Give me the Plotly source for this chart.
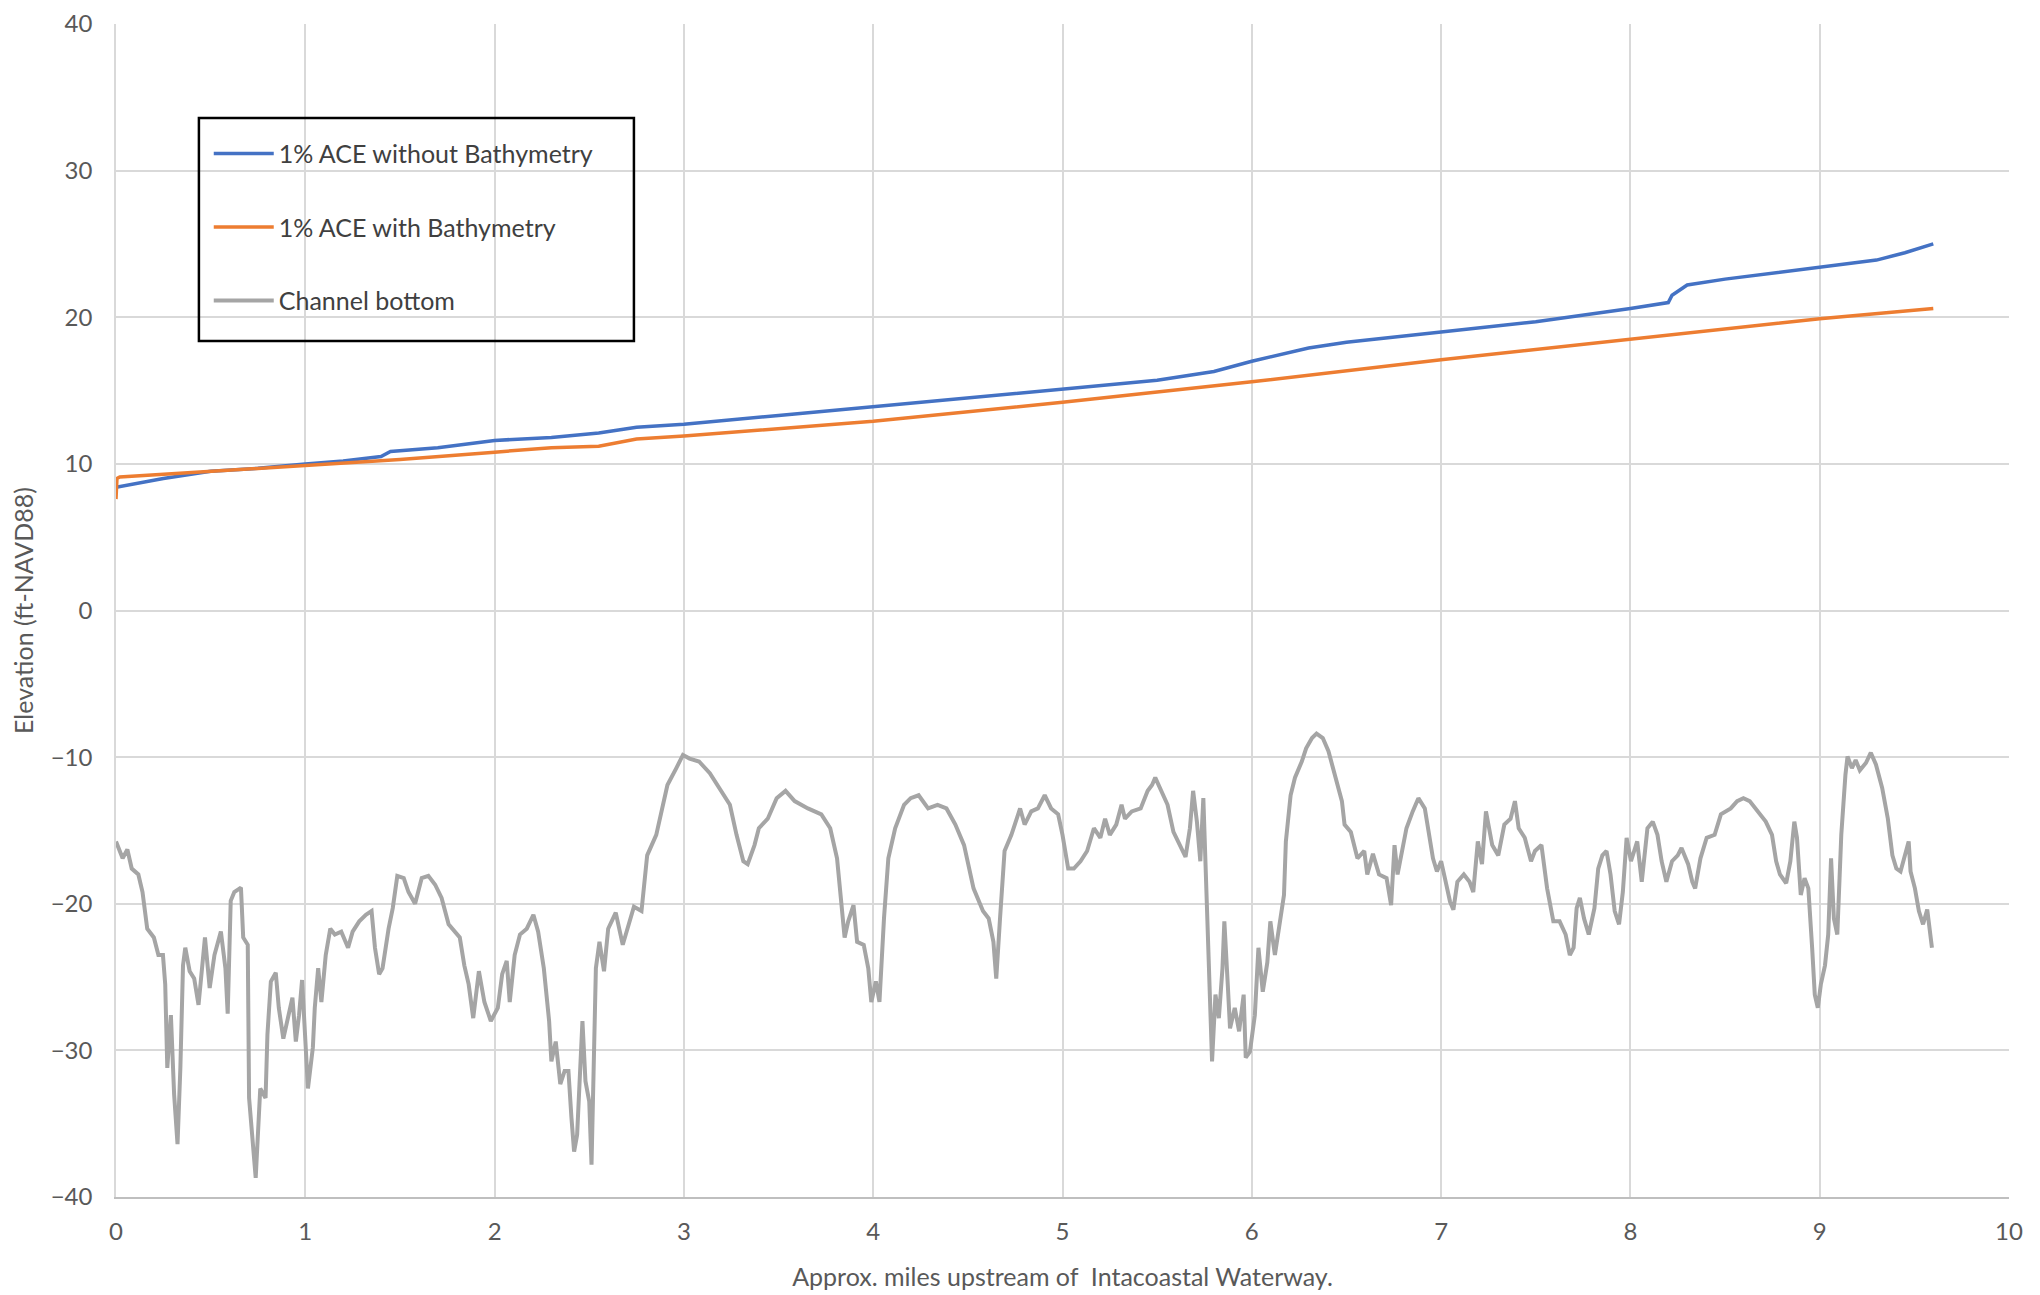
"""
Water-surface profile vs channel bottom along the creek.

Plots the 1% annual-chance-exceedance (ACE) water surface with and without
bathymetry, plus the channel-bottom elevation, against distance upstream.
"""

import plotly.graph_objects as go


# ── Data ─────────────────────────────────────────────────────────────────────
# 1% ACE without bathymetry (blue)
ace_nobathy_miles = [0.0, 0.25, 0.5, 0.75, 1.0, 1.2, 1.4, 1.45, 1.7, 2.0, 2.3,
                     2.55, 2.75, 3.0, 3.5, 4.0, 4.5, 5.0, 5.5, 5.8, 6.0, 6.3,
                     6.5, 7.0, 7.5, 8.0, 8.2, 8.22, 8.3, 8.5, 9.0, 9.3, 9.45,
                     9.6]
ace_nobathy_elev = [8.4, 9.0, 9.5, 9.7, 10.0, 10.2, 10.5, 10.85, 11.1, 11.6,
                    11.8, 12.1, 12.5, 12.7, 13.3, 13.9, 14.5, 15.1, 15.7,
                    16.3, 17.0, 17.9, 18.3, 19.0, 19.7, 20.6, 21.0, 21.5,
                    22.2, 22.6, 23.4, 23.9, 24.4, 25.0]

# 1% ACE with bathymetry (orange)
ace_bathy_miles = [0.0, 0.005, 0.02, 0.5, 1.0, 1.5, 2.0, 2.3, 2.55, 2.75, 3.0,
                   4.0, 5.0, 6.0, 7.0, 8.0, 9.0, 9.6]
ace_bathy_elev = [7.6, 9.0, 9.1, 9.5, 9.9, 10.3, 10.8, 11.1, 11.2, 11.7, 11.9,
                  12.9, 14.2, 15.6, 17.1, 18.5, 19.9, 20.6]

# Channel bottom (gray)
bottom_miles = [
    0.0, 0.035, 0.06, 0.083, 0.118, 0.14, 0.165, 0.2, 0.224, 0.248, 0.26,
    0.271, 0.29, 0.307, 0.325, 0.34, 0.354, 0.366, 0.389, 0.413, 0.436, 0.47,
    0.495, 0.52, 0.554, 0.578, 0.59, 0.606, 0.625, 0.66, 0.672, 0.696, 0.703,
    0.72, 0.738, 0.762, 0.79, 0.80, 0.818, 0.844, 0.86, 0.884, 0.908, 0.932,
    0.95, 0.967, 0.983, 1.0, 1.014, 1.04, 1.05, 1.068, 1.085, 1.108, 1.132,
    1.156, 1.19, 1.226, 1.25, 1.285, 1.32, 1.35, 1.368, 1.39, 1.408, 1.44,
    1.462, 1.486, 1.52, 1.545, 1.58, 1.615, 1.65, 1.686, 1.72, 1.757, 1.79,
    1.816, 1.84, 1.863, 1.887, 1.917, 1.946, 1.98, 2.017, 2.04, 2.064, 2.08,
    2.106, 2.134, 2.17, 2.205, 2.23, 2.26, 2.288, 2.3, 2.323, 2.347, 2.37,
    2.39, 2.406, 2.42, 2.436, 2.448, 2.464, 2.48, 2.5, 2.512, 2.524, 2.535,
    2.554, 2.578, 2.6, 2.64, 2.677, 2.71, 2.736, 2.776, 2.806, 2.854, 2.913,
    2.96, 2.995, 3.03, 3.08, 3.137, 3.196, 3.243, 3.278, 3.314, 3.337, 3.373,
    3.396, 3.443, 3.49, 3.537, 3.585, 3.655, 3.726, 3.773, 3.809, 3.832,
    3.849, 3.868, 3.896, 3.915, 3.95, 3.974, 3.99, 4.014, 4.033, 4.057, 4.08,
    4.116, 4.163, 4.198, 4.24, 4.29, 4.34, 4.387, 4.434, 4.48, 4.53, 4.58,
    4.61, 4.635, 4.65, 4.67, 4.694, 4.73, 4.765, 4.776, 4.8, 4.835, 4.87,
    4.906, 4.94, 4.977, 5.0, 5.03, 5.06, 5.095, 5.13, 5.166, 5.2, 5.225,
    5.25, 5.284, 5.312, 5.33, 5.366, 5.413, 5.45, 5.473, 5.49, 5.52, 5.555,
    5.586, 5.62, 5.65, 5.673, 5.69, 5.71, 5.728, 5.744, 5.756, 5.768, 5.78,
    5.79, 5.808, 5.826, 5.845, 5.855, 5.873, 5.885, 5.91, 5.933, 5.957,
    5.968, 5.99, 6.016, 6.035, 6.058, 6.082, 6.098, 6.122, 6.145, 6.17, 6.18,
    6.205, 6.228, 6.264, 6.287, 6.318, 6.342, 6.375, 6.405, 6.44, 6.476,
    6.49, 6.523, 6.558, 6.594, 6.61, 6.64, 6.672, 6.712, 6.736, 6.754, 6.77,
    6.817, 6.85, 6.88, 6.914, 6.935, 6.957, 6.978, 7.0, 7.02, 7.047, 7.065,
    7.086, 7.12, 7.15, 7.17, 7.194, 7.216, 7.237, 7.27, 7.302, 7.334, 7.367,
    7.39, 7.41, 7.442, 7.475, 7.496, 7.53, 7.56, 7.593, 7.626, 7.658, 7.68,
    7.7, 7.716, 7.733, 7.755, 7.78, 7.81, 7.83, 7.852, 7.874, 7.895, 7.917,
    7.94, 7.96, 7.98, 8.003, 8.036, 8.06, 8.09, 8.118, 8.143, 8.165, 8.19,
    8.22, 8.25, 8.27, 8.305, 8.327, 8.342, 8.37, 8.403, 8.445, 8.478, 8.5,
    8.53, 8.564, 8.597, 8.63, 8.672, 8.715, 8.748, 8.77, 8.79, 8.823, 8.845,
    8.866, 8.88, 8.9, 8.92, 8.94, 8.96, 8.974, 8.99, 9.006, 9.028, 9.045,
    9.06, 9.075, 9.093, 9.104, 9.114, 9.136, 9.147, 9.17, 9.19, 9.212,
    9.244, 9.27, 9.297, 9.33, 9.36, 9.384, 9.405, 9.427, 9.448, 9.47, 9.48,
    9.503, 9.524, 9.546, 9.568, 9.59, 9.593,
]
bottom_elev = [
    -15.75, -16.9, -16.3, -17.6, -18.0, -19.2, -21.7, -22.3, -23.5, -23.5,
    -25.5, -31.2, -27.6, -33.0, -36.4, -31.2, -24.2, -23.0, -24.6, -25.1,
    -26.9, -22.3, -25.75, -23.5, -21.9, -24.4, -27.5, -19.8, -19.2, -18.9,
    -22.3, -22.8, -33.25, -35.75, -38.7, -32.6, -33.25, -28.9, -25.3, -24.7,
    -27.1, -29.2, -27.8, -26.4, -29.4, -27.6, -25.2, -28.9, -32.6, -29.8,
    -27.1, -24.4, -26.7, -23.5, -21.7, -22.1, -21.9, -23.0, -21.9, -21.2,
    -20.75, -20.5, -23.0, -24.8, -24.4, -21.7, -20.3, -18.1, -18.25, -19.2,
    -20.0, -18.25, -18.1, -18.7, -19.6, -21.4, -21.9, -22.3, -24.2, -25.5,
    -27.8, -24.6, -26.7, -28.0, -27.1, -24.8, -23.9, -26.7, -23.5, -22.1,
    -21.7, -20.75, -21.9, -24.4, -28.0, -30.75, -29.4, -32.3, -31.4, -31.4,
    -34.6, -36.9, -35.75, -32.3, -28.0, -32.1, -33.5, -37.8, -29.4, -24.4,
    -22.6, -24.6, -21.7, -20.6, -22.8, -21.2, -20.2, -20.5, -16.7, -15.3,
    -11.9, -10.75, -9.85, -10.1, -10.3, -11.1, -12.3, -13.25, -15.3, -17.1,
    -17.3, -16.0, -14.85, -14.2, -12.8, -12.3, -13.0, -13.5, -13.9, -14.85,
    -16.9, -19.85, -22.3, -21.2, -20.1, -22.6, -22.8, -24.4, -26.7, -25.3,
    -26.7, -21.0, -16.9, -14.85, -13.25, -12.8, -12.6, -13.5, -13.25, -13.5,
    -14.6, -16.0, -18.95, -20.5, -21.0, -22.6, -25.1, -21.0, -16.4, -15.3,
    -13.9, -13.5, -14.6, -13.7, -13.5, -12.6, -13.5, -13.9, -15.3, -17.6,
    -17.6, -17.1, -16.4, -14.85, -15.5, -14.2, -15.3, -14.6, -13.25, -14.2,
    -13.7, -13.5, -12.3, -11.9, -11.4, -12.3, -13.25, -15.1, -16.0, -16.8,
    -14.85, -12.3, -14.4, -17.1, -12.8, -17.6, -22.1, -28.7, -30.75, -26.2,
    -27.8, -24.4, -21.2, -25.5, -28.5, -27.1, -28.7, -26.2, -30.5, -30.1,
    -27.6, -23.0, -26.0, -24.0, -21.2, -23.5, -21.7, -19.4, -15.75, -12.6,
    -11.4, -10.3, -9.4, -8.7, -8.4, -8.7, -9.6, -11.2, -13.0, -14.6, -15.1,
    -16.9, -16.4, -18.0, -16.6, -18.0, -18.25, -20.1, -16.0, -18.0, -14.85,
    -13.7, -12.8, -13.5, -15.3, -16.9, -17.8, -17.1, -18.25, -19.85, -20.4,
    -18.5, -18.0, -18.5, -19.2, -15.75, -17.3, -13.7, -16.0, -16.7, -14.6,
    -14.2, -13.0, -14.85, -15.5, -17.1, -16.4, -16.0, -18.95, -21.2, -21.2,
    -22.1, -23.5, -23.0, -20.3, -19.6, -21.0, -22.1, -20.3, -17.6, -16.7,
    -16.4, -18.0, -20.5, -21.4, -19.2, -15.5, -17.1, -15.75, -18.5, -14.85,
    -14.4, -15.3, -17.1, -18.5, -17.1, -16.7, -16.2, -17.3, -18.5, -18.95,
    -16.9, -15.5, -15.3, -13.9, -13.7, -13.5, -13.0, -12.8, -13.0, -13.7,
    -14.4, -15.3, -17.1, -18.0, -18.6, -17.1, -14.4, -15.5, -19.4, -18.25,
    -18.95, -23.0, -26.2, -27.1, -25.5, -24.2, -22.1, -16.9, -21.0, -22.1,
    -17.6, -15.3, -11.2, -9.95, -10.75, -10.2, -10.9, -10.4, -9.7, -10.5,
    -12.1, -14.2, -16.7, -17.6, -17.8, -16.9, -15.75, -17.8, -18.95, -20.5,
    -21.4, -20.4, -22.6, -23.0,
]

# Axis ticks
x_ticks = [0, 1, 2, 3, 4, 5, 6, 7, 8, 9, 10]
y_ticks = [-40, -30, -20, -10, 0, 10, 20, 30, 40]

# ── Styling ──────────────────────────────────────────────────────────────────
_FONT = "Lato, Liberation Sans, sans-serif"
_TEXT_COLOR = "#595959"
_GRID_COLOR = "#d9d9d9"

fig = go.Figure()

fig.add_trace(go.Scatter(
    x=ace_nobathy_miles, y=ace_nobathy_elev,
    mode="lines", name="1% ACE without Bathymetry",
    legendgroup="a",
    line=dict(color="#4472c4", width=3.5),
))
fig.add_trace(go.Scatter(
    x=ace_bathy_miles, y=ace_bathy_elev,
    mode="lines", name="1% ACE with Bathymetry",
    legendgroup="b",
    line=dict(color="#ed7d31", width=3.5),
))
fig.add_trace(go.Scatter(
    x=bottom_miles, y=bottom_elev,
    mode="lines", name="Channel bottom",
    legendgroup="c",
    line=dict(color="#a5a5a5", width=4),
))

# Legend frame drawn as a shape so it can carry Excel-like padding
fig.add_shape(
    type="rect", xref="paper", yref="paper",
    x0=0.0438, x1=0.2736, y0=0.7298, y1=0.9199,
    line=dict(color="black", width=2.5),
    fillcolor="rgba(0,0,0,0)",
    layer="above",
)

fig.update_layout(
    width=2032,
    height=1287,
    paper_bgcolor="white",
    plot_bgcolor="white",
    font=dict(family=_FONT, size=24, color=_TEXT_COLOR),
    margin=dict(l=108, r=31, t=16, b=98, autoexpand=False),
    xaxis=dict(
        range=[0, 10],
        tickvals=x_ticks,
        title=dict(text="Approx. miles upstream of  Intacoastal Waterway.",
                   font=dict(size=25), standoff=25),
        showgrid=True, gridcolor=_GRID_COLOR, gridwidth=1.5,
        showline=True, linecolor="#bfbfbf", linewidth=2,
        zeroline=False,
        ticks="", ticklabelstandoff=12,
        ticklabeloverflow="allow",
        automargin=False,
    ),
    yaxis=dict(
        range=[-40, 40],
        tickvals=y_ticks,
        title=dict(text="Elevation (ft-NAVD88)", font=dict(size=25),
                   standoff=12),
        showgrid=True, gridcolor=_GRID_COLOR, gridwidth=1.5,
        showline=True, linecolor=_GRID_COLOR, linewidth=1.5,
        zeroline=False,
        ticks="", ticklabelstandoff=17,
        ticklabeloverflow="allow",
        automargin=False,
    ),
    legend=dict(
        x=0.049, y=0.909, xanchor="left", yanchor="top",
        bgcolor="rgba(0,0,0,0)",
        borderwidth=0,
        font=dict(size=25, color="#404040"),
        tracegroupgap=38,
        itemwidth=60,
    ),
    showlegend=True,
)

fig.write_html("out.html")
